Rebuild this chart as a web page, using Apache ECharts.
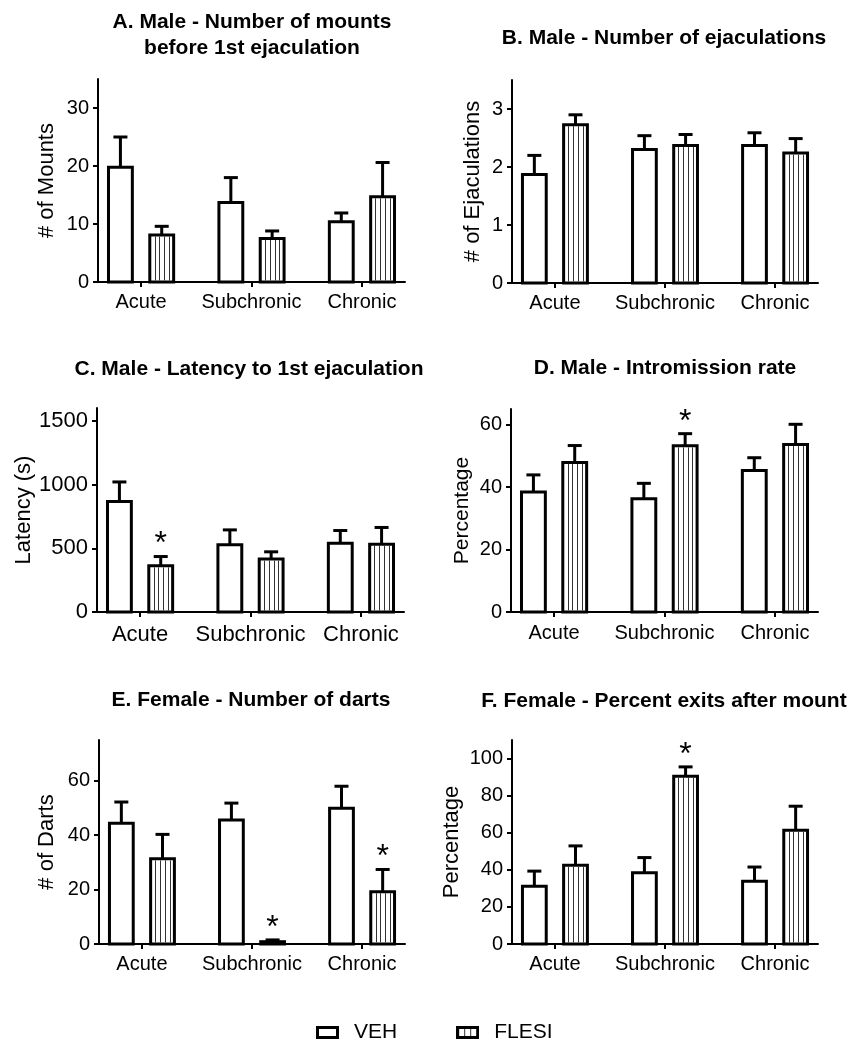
<!DOCTYPE html>
<html>
<head>
<meta charset="utf-8">
<script src="https://cdn.jsdelivr.net/npm/echarts@6/dist/echarts.min.js"></script>
<style>
html,body{margin:0;padding:0;background:#fff;}
#chart{width:858px;height:1043px;}
</style>
</head>
<body>
<div id="chart"></div>
<script>
// ---------- data ----------
const categories = ['Acute', 'Subchronic', 'Chronic'];
const groups = ['VEH', 'FLESI'];

// A. Male - Number of mounts before 1st ejaculation
const mountsVeh = [19.8, 13.7, 10.4];
const mountsVehErr = [5.2, 4.3, 1.5];
const mountsFlesi = [8.1, 7.5, 14.7];
const mountsFlesiErr = [1.5, 1.3, 5.9];
const mountsTicks = [0, 10, 20, 30];

// B. Male - Number of ejaculations
const ejacVeh = [1.87, 2.30, 2.37];
const ejacVehErr = [0.33, 0.24, 0.22];
const ejacFlesi = [2.73, 2.37, 2.24];
const ejacFlesiErr = [0.17, 0.19, 0.25];
const ejacTicks = [0, 1, 2, 3];

// C. Male - Latency to 1st ejaculation
const latVeh = [866, 527, 540];
const latVehErr = [154, 117, 99];
const latFlesi = [362, 415, 532];
const latFlesiErr = [73, 57, 131];
const latTicks = [0, 500, 1000, 1500];

// D. Male - Intromission rate
const introVeh = [38.4, 36.3, 45.3];
const introVehErr = [5.5, 4.9, 4.1];
const introFlesi = [47.9, 53.2, 53.6];
const introFlesiErr = [5.4, 3.9, 6.5];
const introTicks = [0, 20, 40, 60];

// E. Female - Number of darts
const dartsVeh = [44.4, 45.6, 49.9];
const dartsVehErr = [7.8, 6.2, 8.1];
const dartsFlesi = [31.3, 0.85, 19.2];
const dartsFlesiErr = [9.0, 0.65, 8.2];
const dartsTicks = [0, 20, 40, 60];

// F. Female - Percent exits after mount
const exitsVeh = [31.2, 38.4, 33.9];
const exitsVehErr = [8.1, 8.2, 7.6];
const exitsFlesi = [42.4, 90.4, 61.4];
const exitsFlesiErr = [10.5, 5.1, 12.9];
const exitsTicks = [0, 20, 40, 60, 80, 100];

// significance markers (1 = *)
const noStars = [0, 0, 0];
const latFlesiStars = [1, 0, 0];
const introFlesiStars = [0, 1, 0];
const dartsFlesiStars = [0, 1, 1];
const exitsFlesiStars = [0, 1, 0];

// ---------- panels ----------
const panels = [
  {title: 'A. Male - Number of mounts\nbefore 1st ejaculation', yName: '# of Mounts', max: 35, ticks: mountsTicks,
   veh: mountsVeh, vehErr: mountsVehErr, fl: mountsFlesi, flErr: mountsFlesiErr, vehStars: noStars, flStars: noStars},
  {title: 'B. Male - Number of ejaculations', yName: '# of Ejaculations', max: 3.5, ticks: ejacTicks,
   veh: ejacVeh, vehErr: ejacVehErr, fl: ejacFlesi, flErr: ejacFlesiErr, vehStars: noStars, flStars: noStars},
  {title: 'C. Male - Latency to 1st ejaculation', yName: 'Latency (s)', max: 1600, ticks: latTicks,
   veh: latVeh, vehErr: latVehErr, fl: latFlesi, flErr: latFlesiErr, vehStars: noStars, flStars: latFlesiStars},
  {title: 'D. Male - Intromission rate', yName: 'Percentage', max: 65, ticks: introTicks,
   veh: introVeh, vehErr: introVehErr, fl: introFlesi, flErr: introFlesiErr, vehStars: noStars, flStars: introFlesiStars},
  {title: 'E. Female - Number of darts', yName: '# of Darts', max: 75, ticks: dartsTicks,
   veh: dartsVeh, vehErr: dartsVehErr, fl: dartsFlesi, flErr: dartsFlesiErr, vehStars: noStars, flStars: dartsFlesiStars},
  {title: 'F. Female - Percent exits after mount', yName: 'Percentage', max: 110, ticks: exitsTicks,
   veh: exitsVeh, vehErr: exitsVehErr, fl: exitsFlesi, flErr: exitsFlesiErr, vehStars: noStars, flStars: exitsFlesiStars}
];

// ---------- layout / style ----------
const FONT = '"Liberation Sans", Arial, Helvetica, sans-serif';
const layout = [
  {grid: {left: 98, top: 79, width: 307, height: 203}, titleX: 252, titleTop: 9, nameGap: 40, tickFont: 20, catFont: 20, nameFont: 22, catMargin: 10},
  {grid: {left: 512, top: 80, width: 306, height: 203}, titleX: 664, titleTop: 25, nameGap: 28, tickFont: 20, catFont: 20, nameFont: 22, catMargin: 10},
  {grid: {left: 97, top: 408, width: 307, height: 204}, titleX: 249, titleTop: 356, nameGap: 62, tickFont: 22, catFont: 22, nameFont: 22, catMargin: 12},
  {grid: {left: 511, top: 409, width: 307, height: 203}, titleX: 665, titleTop: 355, nameGap: 38, tickFont: 20, catFont: 20, nameFont: 21, catMargin: 11},
  {grid: {left: 99, top: 740, width: 306, height: 204}, titleX: 251, titleTop: 687, nameGap: 41, tickFont: 20, catFont: 20, nameFont: 22, catMargin: 10},
  {grid: {left: 512, top: 740, width: 306, height: 204}, titleX: 664, titleTop: 688, nameGap: 49, tickFont: 20, catFont: 20, nameFont: 22, catMargin: 10}
];
const BAR_OFFSET = 0.187;   // category units
const BAR_HALF = 0.108;     // category units
const CAP_HALF = 7;         // px

function legendIcon(hatched) {
  const c = document.createElement('canvas');
  c.width = 23; c.height = 13;
  const g = c.getContext('2d');
  g.fillStyle = '#fff'; g.fillRect(0, 0, 23, 13);
  if (hatched) {
    g.fillStyle = '#333';
    g.fillRect(8, 0, 1, 13);
    g.fillRect(14, 0, 1, 13);
  }
  g.lineWidth = 3; g.strokeStyle = '#000';
  g.strokeRect(1.5, 1.5, 20, 10);
  return 'image://' + c.toDataURL();
}

function makeSeries(pi, group, means, errs, stars) {
  const hatched = group === 'FLESI';
  const off = hatched ? BAR_OFFSET : -BAR_OFFSET;
  return {
    type: 'custom',
    name: group,
    xAxisIndex: pi,
    yAxisIndex: pi,
    data: means.map((m, i) => [i, m, errs[i], stars[i]]),
    encode: {x: 0, y: 1},
    silent: true,
    renderItem: function (params, api) {
      const i = api.value(0), m = api.value(1), e = api.value(2), s = api.value(3);
      const cx = i + off;
      const tl = api.coord([cx - BAR_HALF, m]);
      const br = api.coord([cx + BAR_HALF, 0]);
      const tp = api.coord([cx, m + e]);
      const x0 = tl[0], y0 = tl[1], w = br[0] - tl[0], h = br[1] - tl[1];
      const children = [];
      children.push({type: 'rect', shape: {x: x0, y: y0, width: w, height: h},
        style: {fill: '#fff', stroke: '#000', lineWidth: 3}});
      if (hatched && h > 4) {
        for (let k = 1; k <= 4; k++) {
          const xk = Math.round(x0 + w * k / 5) + 0.5;
          children.push({type: 'line', shape: {x1: xk, y1: y0 + 1.5, x2: xk, y2: y0 + h - 1.5},
            style: {stroke: '#333', lineWidth: 1}});
        }
      }
      children.push({type: 'line', shape: {x1: tp[0], y1: y0, x2: tp[0], y2: tp[1]},
        style: {stroke: '#000', lineWidth: 3}});
      children.push({type: 'line', shape: {x1: tp[0] - CAP_HALF, y1: tp[1], x2: tp[0] + CAP_HALF, y2: tp[1]},
        style: {stroke: '#000', lineWidth: 3}});
      if (s) {
        children.push({type: 'text', x: tp[0], y: tp[1] - 12,
          style: {text: '*', font: '32px ' + FONT, fill: '#000', align: 'center', verticalAlign: 'middle'}});
      }
      return {type: 'group', children: children};
    }
  };
}

const option = {
  animation: false,
  backgroundColor: '#fff',
  title: panels.map((p, k) => ({
    text: p.title,
    left: layout[k].titleX,
    top: layout[k].titleTop,
    textAlign: 'center',
    padding: 0,
    textStyle: {fontFamily: FONT, fontWeight: 'bold', fontSize: 21, lineHeight: 26, color: '#000'}
  })),
  legend: {
    left: 316, top: 1022, padding: 0, itemWidth: 23, itemHeight: 13, itemGap: 59,
    selectedMode: false,
    textStyle: {fontFamily: FONT, fontSize: 21, color: '#000', padding: [0, 0, 0, 10]},
    data: [
      {name: groups[0], icon: legendIcon(false)},
      {name: groups[1], icon: legendIcon(true)}
    ]
  },
  grid: layout.map(l => Object.assign({containLabel: false}, l.grid)),
  xAxis: panels.map((p, k) => ({
    gridIndex: k, type: 'value', min: -0.39, max: 2.39,
    splitLine: {show: false},
    axisLine: {show: true, onZero: false, lineStyle: {color: '#000', width: 2}},
    axisTick: {show: true, customValues: [0, 1, 2], length: 5, lineStyle: {color: '#000', width: 2}},
    axisLabel: {customValues: [0, 1, 2], formatter: v => categories[Math.round(v)],
      fontFamily: FONT, fontSize: layout[k].catFont, color: '#000', margin: layout[k].catMargin}
  })),
  yAxis: panels.map((p, k) => ({
    gridIndex: k, type: 'value', min: 0, max: p.max,
    splitLine: {show: false},
    axisLine: {show: true, onZero: false, lineStyle: {color: '#000', width: 2}},
    axisTick: {show: true, customValues: p.ticks, length: 5, lineStyle: {color: '#000', width: 2}},
    axisLabel: {customValues: p.ticks, formatter: v => String(v),
      fontFamily: FONT, fontSize: layout[k].tickFont, color: '#000', margin: 9},
    name: p.yName, nameLocation: 'middle', nameGap: layout[k].nameGap,
    nameTextStyle: {fontFamily: FONT, fontSize: layout[k].nameFont, color: '#000'}
  })),
  series: panels.flatMap((p, k) => [
    makeSeries(k, groups[0], p.veh, p.vehErr, p.vehStars),
    makeSeries(k, groups[1], p.fl, p.flErr, p.flStars)
  ])
};

const chart = echarts.init(document.getElementById('chart'));
chart.setOption(option);
</script>
</body>
</html>
